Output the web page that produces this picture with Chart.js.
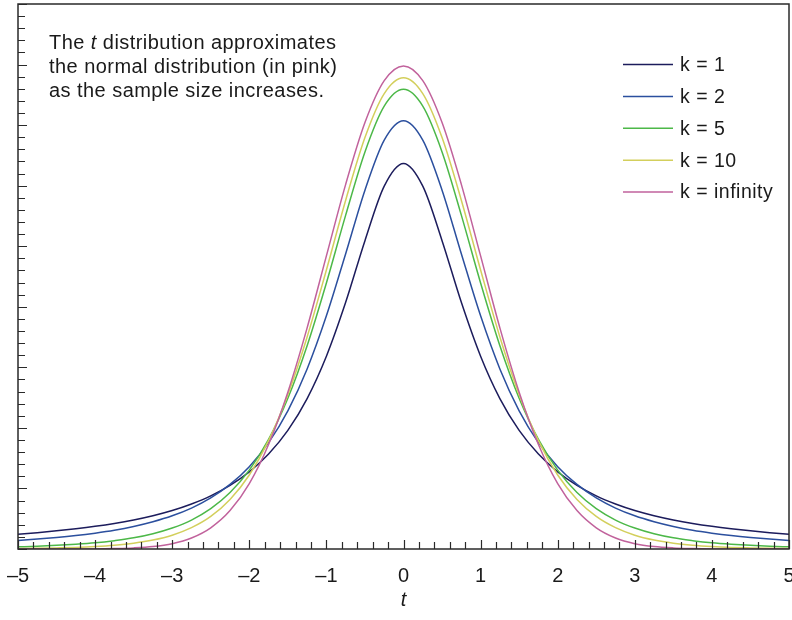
<!DOCTYPE html>
<html><head><meta charset="utf-8">
<script src="https://cdn.jsdelivr.net/npm/chart.js@4.4.1/dist/chart.umd.min.js"></script>
<style>html,body{margin:0;padding:0;background:#fff}</style>
</head><body>
<canvas id="c" width="792" height="620"></canvas>
<script>
const tValues = [-5,-4.75,-4.5,-4.25,-4,-3.75,-3.5,-3.25,-3,-2.75,-2.5,-2.25,-2,-1.75,-1.5,-1.25,-1,-0.75,-0.5,-0.25,0,0.25,0.5,0.75,1,1.25,1.5,1.75,2,2.25,2.5,2.75,3,3.25,3.5,3.75,4,4.25,4.5,4.75,5];
const k1 = [0.0122,0.0135,0.0150,0.0167,0.0187,0.0211,0.0240,0.0275,0.0318,0.0372,0.0439,0.0525,0.0637,0.0784,0.0979,0.1242,0.1592,0.2037,0.2546,0.2996,0.3183,0.2996,0.2546,0.2037,0.1592,0.1242,0.0979,0.0784,0.0637,0.0525,0.0439,0.0372,0.0318,0.0275,0.0240,0.0211,0.0187,0.0167,0.0150,0.0135,0.0122];
const k2 = [0.0071,0.0082,0.0095,0.0111,0.0131,0.0155,0.0186,0.0225,0.0274,0.0338,0.0422,0.0533,0.0680,0.0878,0.1141,0.1487,0.1925,0.2438,0.2963,0.3376,0.3536,0.3376,0.2963,0.2438,0.1925,0.1487,0.1141,0.0878,0.0680,0.0533,0.0422,0.0338,0.0274,0.0225,0.0186,0.0155,0.0131,0.0111,0.0095,0.0082,0.0071];
const k5 = [0.0018,0.0023,0.0030,0.0039,0.0051,0.0069,0.0092,0.0126,0.0173,0.0239,0.0333,0.0466,0.0651,0.0905,0.1245,0.1679,0.2197,0.2757,0.3279,0.3657,0.3796,0.3657,0.3279,0.2757,0.2197,0.1679,0.1245,0.0905,0.0651,0.0466,0.0333,0.0239,0.0173,0.0126,0.0092,0.0069,0.0051,0.0039,0.0030,0.0023,0.0018];
const k10 = [0.0004,0.0006,0.0009,0.0013,0.0020,0.0031,0.0048,0.0074,0.0114,0.0176,0.0269,0.0409,0.0611,0.0895,0.1274,0.1751,0.2304,0.2880,0.3397,0.3760,0.3891,0.3760,0.3397,0.2880,0.2304,0.1751,0.1274,0.0895,0.0611,0.0409,0.0269,0.0176,0.0114,0.0074,0.0048,0.0031,0.0020,0.0013,0.0009,0.0006,0.0004];
const kInf = [0.0000,0.0000,0.0000,0.0000,0.0001,0.0004,0.0009,0.0020,0.0044,0.0091,0.0175,0.0317,0.0540,0.0863,0.1295,0.1826,0.2420,0.3011,0.3521,0.3867,0.3989,0.3867,0.3521,0.3011,0.2420,0.1826,0.1295,0.0863,0.0540,0.0317,0.0175,0.0091,0.0044,0.0020,0.0009,0.0004,0.0001,0.0000,0.0000,0.0000,0.0000];
const seriesLabels = ['k = 1','k = 2','k = 5','k = 10','k = infinity'];
const seriesColors = ['#1c1c5c','#2b4f9e','#4cb848','#d3cf5c','#c1629c'];
const noteLines = [['The ', 't', ' distribution approximates'], ['the normal distribution (in pink)'], ['as the sample size increases.']];
const xTitle = 't';

const FONT = '"Liberation Sans", Arial, Helvetica, sans-serif';
const allSeries = [k1,k2,k5,k10,kInf];
const datasets = allSeries.map((s,i)=>({
  label: seriesLabels[i],
  data: tValues.map((t,j)=>({x:t,y:s[j]})),
  borderColor: seriesColors[i],
  borderWidth: 1.5,
  pointRadius: 0,
  fill: false,
  cubicInterpolationMode: 'monotone',
  order: 5 - i
}));

const decor = {
  id: 'decor',
  afterDatasetsDraw(chart) {
    const {ctx, chartArea: a, scales: {x, y}} = chart;
    ctx.save();
    ctx.strokeStyle = '#2a2a2a';
    ctx.lineWidth = 1.5;
    ctx.strokeRect(a.left, a.top, a.right - a.left, a.bottom - a.top);
    ctx.lineWidth = 1.2;
    ctx.beginPath();
    for (let i = 0; i <= 50; i++) {
      const px = Math.round(x.getPixelForValue(x.min + i * 0.2)) + 0.5;
      const len = i % 5 === 0 ? 9 : 7;
      ctx.moveTo(px, a.bottom); ctx.lineTo(px, a.bottom - len);
    }
    for (let i = 0; i <= 45; i++) {
      const py = Math.round(y.getPixelForValue(i * 0.01)) + 0.5;
      const len = i % 5 === 0 ? 9 : 7;
      ctx.moveTo(a.left, py); ctx.lineTo(a.left + len, py);
    }
    ctx.stroke();

    // annotation
    ctx.fillStyle = '#1a1a1a';
    ctx.textBaseline = 'alphabetic';
    ctx.letterSpacing = '0.45px';
    noteLines.forEach((parts, li) => {
      let cx = a.left + 31;
      const by = a.top + 45 + li * 24;
      parts.forEach((p, pi) => {
        const italic = parts.length > 1 && pi === 1;
        ctx.font = (italic ? 'italic ' : '') + '20px ' + FONT;
        ctx.fillText(p, cx, by);
        cx += ctx.measureText(p).width;
      });
    });

    // legend
    ctx.font = '19.5px ' + FONT;
    ctx.letterSpacing = '0.5px';
    ctx.textBaseline = 'middle';
    chart.data.datasets.forEach((ds, i) => {
      const cy = 64.5 + i * 31.9;
      ctx.strokeStyle = ds.borderColor;
      ctx.lineWidth = 1.5;
      ctx.beginPath();
      ctx.moveTo(623, cy); ctx.lineTo(673, cy);
      ctx.stroke();
      ctx.fillStyle = '#1a1a1a';
      ctx.fillText(ds.label, 680, cy + 1);
    });
    ctx.restore();
  }
};

new Chart(document.getElementById('c'), {
  type: 'line',
  data: { datasets },
  options: {
    responsive: false,
    animation: false,
    devicePixelRatio: 1,
    layout: { padding: { left: 18, top: 4, right: 3, bottom: 2 } },
    plugins: { legend: { display: false }, tooltip: { enabled: false } },
    scales: {
      x: {
        type: 'linear', min: -5, max: 5,
        grid: { display: false, drawTicks: false },
        border: { display: false },
        ticks: {
          stepSize: 1, autoSkip: false, maxRotation: 0, padding: 15,
          color: '#1a1a1a', font: { family: FONT, size: 20 },
          callback: v => (v < 0 ? '\u2013' + Math.abs(v) : String(v))
        },
        title: { display: true, text: xTitle, color: '#1a1a1a', padding: { top: 0, bottom: 6 },
                 font: { family: FONT, size: 20, style: 'italic' } },
        afterFit(s) { s.paddingLeft = 0; s.paddingRight = 0; s.height = 69; }
      },
      y: { display: false, min: 0, max: 0.45 }
    }
  },
  plugins: [decor]
});
</script>
</body></html>
